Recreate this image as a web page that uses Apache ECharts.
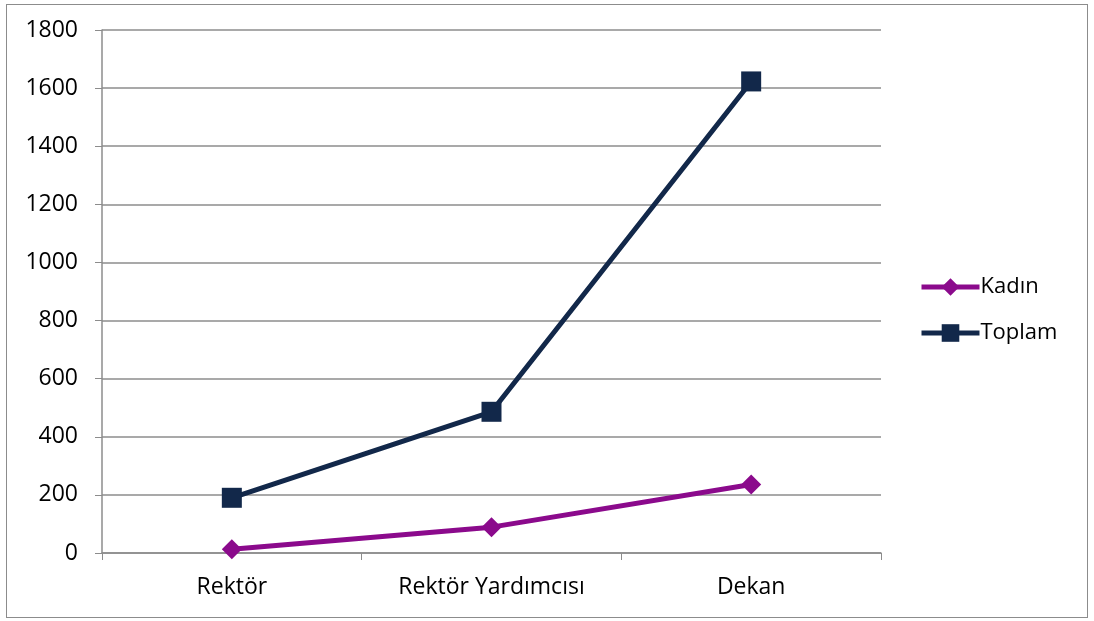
<!DOCTYPE html>
<html>
<head>
<meta charset="utf-8">
<script src="https://cdn.jsdelivr.net/npm/echarts@6/dist/echarts.min.js"></script>
<style>
  html, body { margin: 0; padding: 0; background: #fff; }
  #frame { position: absolute; left: 6px; top: 4px; width: 1082px; height: 614px; border: 1.5px solid #8c8c8c; box-sizing: border-box; }
  #chart { width: 1094px; height: 621px; }
</style>
</head>
<body>
<div id="frame"></div>
<div id="chart"></div>
<script>
const categories = ['Rektör', 'Rektör Yardımcısı', 'Dekan']
const kadin = [13, 89, 236]
const toplam = [190, 486, 1623]

const chart = echarts.init(document.getElementById('chart'))
const font = 'Open Sans'
chart.setOption({
  animation: false,
  grid: { left: 102, right: 213, top: 30, bottom: 68 },
  legend: {
    orient: 'vertical',
    left: 914,
    top: 271,
    itemGap: 24,
    itemWidth: 58,
    itemHeight: 22,
    textStyle: { fontFamily: font, fontSize: 22, color: '#000', padding: [0, 0, 0, -4] },
    data: [
      { name: 'Kadın', lineStyle: { width: 5 } },
      { name: 'Toplam', lineStyle: { width: 5 } }
    ]
  },
  xAxis: {
    type: 'category',
    data: categories,
    boundaryGap: true,
    axisLine: { lineStyle: { color: '#8c8c8c', width: 1.5 } },
    axisTick: { show: true, length: 7, lineStyle: { color: '#8c8c8c' } },
    axisLabel: { fontFamily: font, fontSize: 23, color: '#000', margin: 23 }
  },
  yAxis: {
    type: 'value',
    min: 0,
    max: 1800,
    interval: 200,
    axisLine: { show: true, lineStyle: { color: '#8c8c8c', width: 1.5 } },
    axisTick: { show: true, inside: false, length: 7, lineStyle: { color: '#8c8c8c' } },
    axisLabel: { fontFamily: font, fontSize: 23, color: '#000', margin: 24, formatter: v => String(v) },
    splitLine: { lineStyle: { color: '#8c8c8c', width: 1.5 } }
  },
  series: [
    {
      name: 'Kadın',
      type: 'line',
      data: kadin,
      symbol: 'diamond',
      symbolSize: 20,
      lineStyle: { color: '#8b0a8c', width: 5 },
      itemStyle: { color: '#8b0a8c' }
    },
    {
      name: 'Toplam',
      type: 'line',
      data: toplam,
      symbol: 'rect',
      symbolSize: 20,
      lineStyle: { color: '#12284a', width: 5 },
      itemStyle: { color: '#12284a' }
    }
  ]
})
</script>
</body>
</html>
